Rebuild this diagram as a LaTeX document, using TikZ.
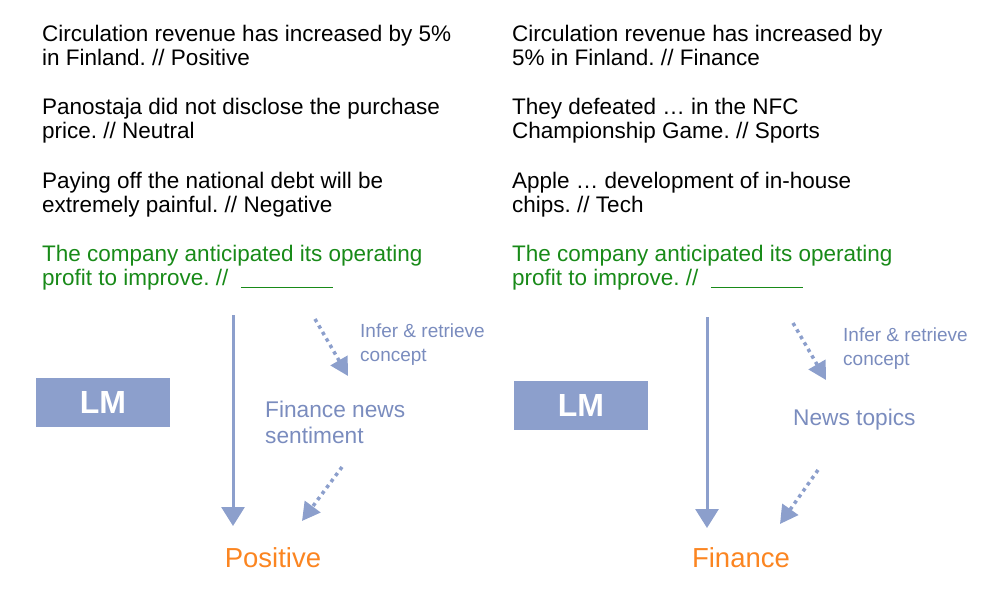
\documentclass[tikz,border=0pt]{standalone}
\usepackage{fontspec}
\setmainfont{Liberation Sans}
\frenchspacing
\usetikzlibrary{positioning, arrows.meta, calc}
\definecolor{cG}{RGB}{24,138,24}
\definecolor{cB}{RGB}{140,159,204}
\definecolor{cL}{RGB}{122,140,190}
\definecolor{cO}{RGB}{251,133,33}

\begin{document}
\begin{tikzpicture}[x=1pt, y=-1pt, inner sep=0pt,
    demo/.style={anchor=base west, align=left, font=\fontsize{22.5}{24}\selectfont},
    query/.style={demo, text=cG},
    lmbox/.style={fill=cB, minimum width=134pt, minimum height=49pt, text=white,
                  font=\fontsize{32}{34}\selectfont\bfseries},
    concept/.style={anchor=base west, align=left, text=cL, font=\fontsize{22.7}{26}\selectfont},
    hint/.style={anchor=base west, align=left, text=cL, font=\fontsize{19}{24}\selectfont},
    answer/.style={anchor=base, text=cO, font=\fontsize{27.5}{30}\selectfont},
    flow/.style={draw=cB, line width=3pt, -{Triangle[width=23pt,length=19pt]}},
    infer/.style={draw=cB, line width=3.5pt, dash pattern=on 3.5pt off 4pt,
                  -{Triangle[width=19pt,length=18pt]}}]

    \useasboundingbox (0,0) rectangle (986,592);

    % Sentiment demonstrations (base = last line)
    \node[demo] (sentA) at (42,65)  {Circulation revenue has increased by 5\%\\in Finland. // Positive};
    \node[demo] (sentB) at (42,138) {Panostaja did not disclose the purchase\\price. // Neutral};
    \node[demo] (sentC) at (42,212) {Paying off the national debt will be\\extremely painful. // Negative};
    \node[query] (sentQ) at (42,285) {The company anticipated its operating\\profit to improve. // \hspace{6pt}\rule[-3pt]{92pt}{1.5pt}};

    % Topic demonstrations
    \node[demo] (topA) at (512,65)  {Circulation revenue has increased by\\5\% in Finland. // Finance};
    \node[demo] (topB) at (512,138) {They defeated … in the NFC\\Championship Game. // Sports};
    \node[demo] (topC) at (512,212) {Apple … development of in-house\\chips. // Tech};
    \node[query] (topQ) at (512,285) {The company anticipated its operating\\profit to improve. // \hspace{6pt}\rule[-3pt]{92pt}{1.5pt}};

    % Language model boxes
    \node[lmbox] (lmS) at (103,402) {LM};
    \node[lmbox] (lmT) at (581,405) {LM};

    % Concepts and answers
    \node[hint] (hintS) at (360,361) {Infer \& retrieve\\concept};
    \node[hint] (hintT) at (843,365) {Infer \& retrieve\\concept};
    \node[concept] (conS) at (265,443) {Finance news\\sentiment};
    \node[concept] (conT) at (793,425) {News topics};
    \node[answer] (ansS) at (273,567) {Positive};
    \node[answer] (ansT) at (741,567) {Finance};

    % Arrow ends
    \coordinate (sTop) at (233,315);   \coordinate (sBot) at (233,526);
    \coordinate (tTop) at (707,317);   \coordinate (tBot) at (707,528);
    \coordinate (sIn1) at (315,319);   \coordinate (sIn2) at (348,376);
    \coordinate (sOut1) at (342,467);  \coordinate (sOut2) at (302,521);
    \coordinate (tIn1) at (793,323);   \coordinate (tIn2) at (826,380);
    \coordinate (tOut1) at (818,470);  \coordinate (tOut2) at (780,524);

    % Paths
    \draw[flow] (sTop) -- (sBot);
    \draw[flow] (tTop) -- (tBot);
    \draw[infer] (sIn1) -- (sIn2);
    \draw[infer] (sOut1) -- (sOut2);
    \draw[infer] (tIn1) -- (tIn2);
    \draw[infer] (tOut1) -- (tOut2);

\end{tikzpicture}
\end{document}
